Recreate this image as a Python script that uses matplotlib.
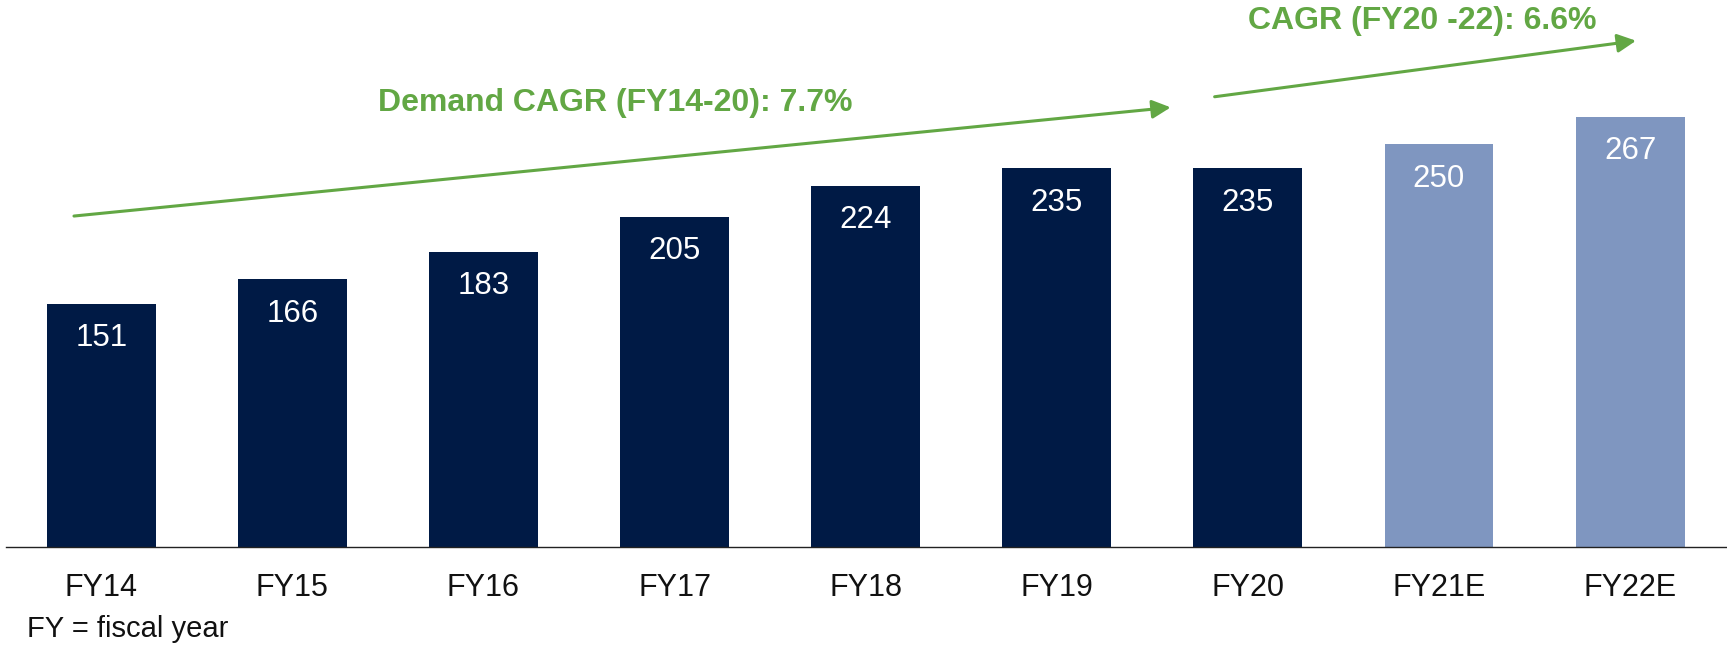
import matplotlib
matplotlib.use("Agg")
import matplotlib.pyplot as plt

categories = ["FY14", "FY15", "FY16", "FY17", "FY18", "FY19", "FY20", "FY21E", "FY22E"]
values = [151, 166, 183, 205, 224, 235, 235, 250, 267]
is_estimate = [False, False, False, False, False, False, False, True, True]
cagr1_label = "Demand CAGR (FY14-20): 7.7%"
cagr2_label = "CAGR (FY20 -22): 6.6%"
footnote = "FY = fiscal year"

NAVY = "#001A45"
LIGHT = "#7F96C0"
GREEN = "#62A744"

plt.rcParams['font.family'] = ['Liberation Sans', 'DejaVu Sans']

fig = plt.figure(figsize=(17.27, 6.45), dpi=100)
ax = fig.add_axes([0.00333, 0.1524, 0.99588, 0.8476])

x = list(range(len(categories)))
colors = [LIGHT if e else NAVY for e in is_estimate]
ax.bar(x, values, width=0.57, color=colors, edgecolor='none')

for xi, v in zip(x, values):
    ax.annotate(str(v), (xi, v), xytext=(0, -30.5), textcoords='offset points',
                ha='center', va='baseline', color='white', fontsize=22.5)

ax.set_xlim(-0.5, 8.5)
ax.set_ylim(0, 339.6)
ax.set_xticks(x)
ax.set_xticklabels(categories, fontsize=22, color='#111111')
ax.tick_params(axis='x', length=0, pad=19)
ax.set_yticks([])
for s in ['top', 'right', 'left']:
    ax.spines[s].set_visible(False)
ax.spines['bottom'].set_color('#222222')
ax.spines['bottom'].set_linewidth(1.0)

arrow_kw = dict(arrowstyle='-|>', mutation_scale=28, lw=2.2, color=GREEN,
                shrinkA=0, shrinkB=0)
ax.annotate("", xy=(5.596, 272.9), xytext=(-0.143, 205.4), arrowprops=arrow_kw,
            annotation_clip=False)
ax.annotate("", xy=(8.031, 314.3), xytext=(5.826, 279.5), arrowprops=arrow_kw,
            annotation_clip=False)

ax.text(2.691, 275.9, cagr1_label, ha='center', va='center', fontsize=23,
        fontweight='bold', color=GREEN)
ax.text(6.914, 326.4, cagr2_label, ha='center', va='center', fontsize=23,
        fontweight='bold', color=GREEN)

fig.text(0.01546, 0.0124, footnote, ha='left', va='baseline', fontsize=21,
         color='#111111')

fig.savefig("out.png", dpi=100)
